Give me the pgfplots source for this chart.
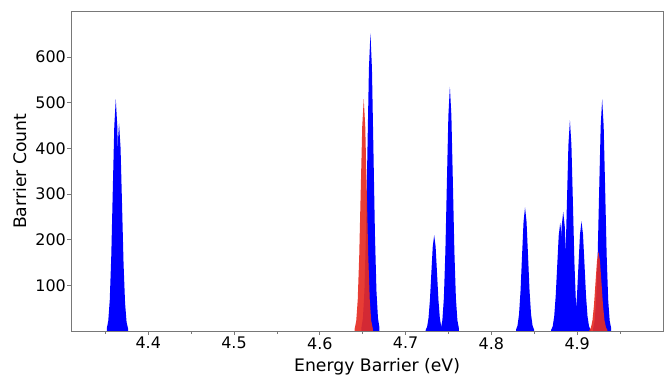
\documentclass[border=0pt]{standalone}
\usepackage{fontspec}
\setmainfont{DejaVu Sans}
\usepackage{pgfplots}
\pgfplotsset{compat=1.18}
\definecolor{axgray}{RGB}{120,120,120}
\definecolor{pkblue}{RGB}{0,0,255}
\definecolor{pkred}{RGB}{230,45,35}
\begin{document}
\begin{tikzpicture}
\begin{axis}[
  scale only axis,
  width=592bp, height=319.5bp,
  xmin=4.31, xmax=5.0, ymin=0, ymax=700,
  axis line style={axgray, line width=0.9bp},
  tick style={axgray, line width=0.8bp},
  tick align=outside,
  major tick length=4bp,
  minor tick length=3bp,
  xtick={4.4,4.5,4.6,4.7,4.8,4.9},
  xticklabels={4.4,4.5,4.6,4.7,4.8,4.9},
  minor xtick={4.35,4.45,4.55,4.65,4.75,4.85,4.95},
  ytick={100,200,300,400,500,600},
  yticklabels={100,200,300,400,500,600},
  xtick pos=bottom, ytick pos=left,
  ticklabel style={font=\fontsize{16}{19}\selectfont},
  yticklabel style={inner sep=1pt},
  xticklabel style={inner sep=2pt},
  xlabel={Energy Barrier (eV)},
  ylabel={Barrier Count},
  label style={font=\fontsize{17.3}{20}\selectfont},
  xlabel style={at={(axis description cs:0.517,0)}, anchor=base, yshift=-40.5bp},
  ylabel style={at={(axis description cs:-0.076,0.5)}, anchor=base},
  clip=true,
]
% blue peaks
\addplot[fill=pkblue, draw=none] coordinates {(4.3517,5.6)(4.35345,22.3)(4.3552,68.7)(4.35695,164.9)(4.3587,308.1)(4.36045,448.3)(4.3622,508)(4.36395,448.3)(4.3657,308.1)(4.36745,164.9)(4.3692,68.7)(4.37095,22.3)(4.3727,5.6)} \closedcycle;
\addplot[fill=pkblue, draw=none] coordinates {(4.3555,5.1)(4.35725,20.0)(4.3590,61.6)(4.36075,147.7)(4.3625,276.0)(4.36425,401.5)(4.3660,455)(4.36775,401.5)(4.3695,276.0)(4.37125,147.7)(4.3730,61.6)(4.37475,20.0)(4.3765,5.1)} \closedcycle;
\addplot[fill=pkblue, draw=none] coordinates {(4.6485,7.2)(4.65025,28.6)(4.6520,88.2)(4.65375,211.7)(4.6555,395.4)(4.65725,575.4)(4.6590,652)(4.66075,575.4)(4.6625,395.4)(4.66425,211.7)(4.6660,88.2)(4.66775,28.6)(4.6695,7.2)} \closedcycle;
\addplot[fill=pkblue, draw=none] coordinates {(4.7234,2.3)(4.72505,9.2)(4.7267,28.4)(4.72835,68.2)(4.7300,127.4)(4.73165,185.3)(4.7333,210)(4.73495,185.3)(4.7366,127.4)(4.73825,68.2)(4.7399,28.4)(4.74155,9.2)(4.7432,2.3)} \closedcycle;
\addplot[fill=pkblue, draw=none] coordinates {(4.7411,5.9)(4.74285,23.5)(4.7446,72.4)(4.74635,173.7)(4.7481,324.5)(4.74985,472.1)(4.7516,535)(4.75335,472.1)(4.7551,324.5)(4.75685,173.7)(4.7586,72.4)(4.76035,23.5)(4.7621,5.9)} \closedcycle;
\addplot[fill=pkblue, draw=none] coordinates {(4.8287,3.0)(4.83045,11.9)(4.8322,36.7)(4.83395,88.0)(4.8357,164.4)(4.83745,239.2)(4.8392,271)(4.84095,239.2)(4.8427,164.4)(4.84445,88.0)(4.8462,36.7)(4.84795,11.9)(4.8497,3.0)} \closedcycle;
\addplot[fill=pkblue, draw=none] coordinates {(4.8697,2.6)(4.87145,10.4)(4.8732,32.1)(4.87495,77.0)(4.8767,143.7)(4.87845,209.2)(4.8802,237)(4.88195,209.2)(4.8837,143.7)(4.88545,77.0)(4.8872,32.1)(4.88895,10.4)(4.8907,2.6)} \closedcycle;
\addplot[fill=pkblue, draw=none] coordinates {(4.8732,2.9)(4.87495,11.5)(4.8767,35.3)(4.87845,84.7)(4.8802,158.3)(4.88195,230.3)(4.8837,261)(4.88545,230.3)(4.8872,158.3)(4.88895,84.7)(4.8907,35.3)(4.89245,11.5)(4.8942,2.9)} \closedcycle;
\addplot[fill=pkblue, draw=none] coordinates {(4.8810,5.1)(4.88275,20.3)(4.8845,62.5)(4.88625,150.0)(4.8880,280.2)(4.88975,407.7)(4.8915,462)(4.89325,407.7)(4.8950,280.2)(4.89675,150.0)(4.8985,62.5)(4.90025,20.3)(4.9020,5.1)} \closedcycle;
\addplot[fill=pkblue, draw=none] coordinates {(4.8945,2.7)(4.89625,10.5)(4.8980,32.5)(4.89975,77.9)(4.9015,145.6)(4.90325,211.8)(4.9050,240)(4.90675,211.8)(4.9085,145.6)(4.91025,77.9)(4.9120,32.5)(4.91375,10.5)(4.9155,2.7)} \closedcycle;
\addplot[fill=pkblue, draw=none] coordinates {(4.9186,5.6)(4.92035,22.3)(4.9221,68.7)(4.92385,164.9)(4.9256,308.1)(4.92735,448.3)(4.9291,508)(4.93085,448.3)(4.9326,308.1)(4.93435,164.9)(4.9361,68.7)(4.93785,22.3)(4.9396,5.6)} \closedcycle;
% red peaks
\addplot[fill=pkred, fill opacity=0.92, draw=none] coordinates {(4.6407,5.6)(4.64245,22.3)(4.6442,68.7)(4.64595,164.9)(4.6477,308.1)(4.64945,448.3)(4.6512,508)(4.65295,448.3)(4.6547,308.1)(4.65645,164.9)(4.6582,68.7)(4.65995,22.3)(4.6617,5.6)} \closedcycle;
\addplot[fill=pkred, fill opacity=0.92, draw=none] coordinates {(4.9143,1.9)(4.91605,7.6)(4.9178,23.5)(4.91955,56.5)(4.9213,105.5)(4.92305,153.6)(4.9248,174)(4.92655,153.6)(4.9283,105.5)(4.93005,56.5)(4.9318,23.5)(4.93355,7.6)(4.9353,1.9)} \closedcycle;
\end{axis}
\pgfresetboundingbox
\path ([shift={(-71bp,-46bp)}]current axis.south west) rectangle ([shift={(4bp,11.5bp)}]current axis.north east);
\end{tikzpicture}
\end{document}
